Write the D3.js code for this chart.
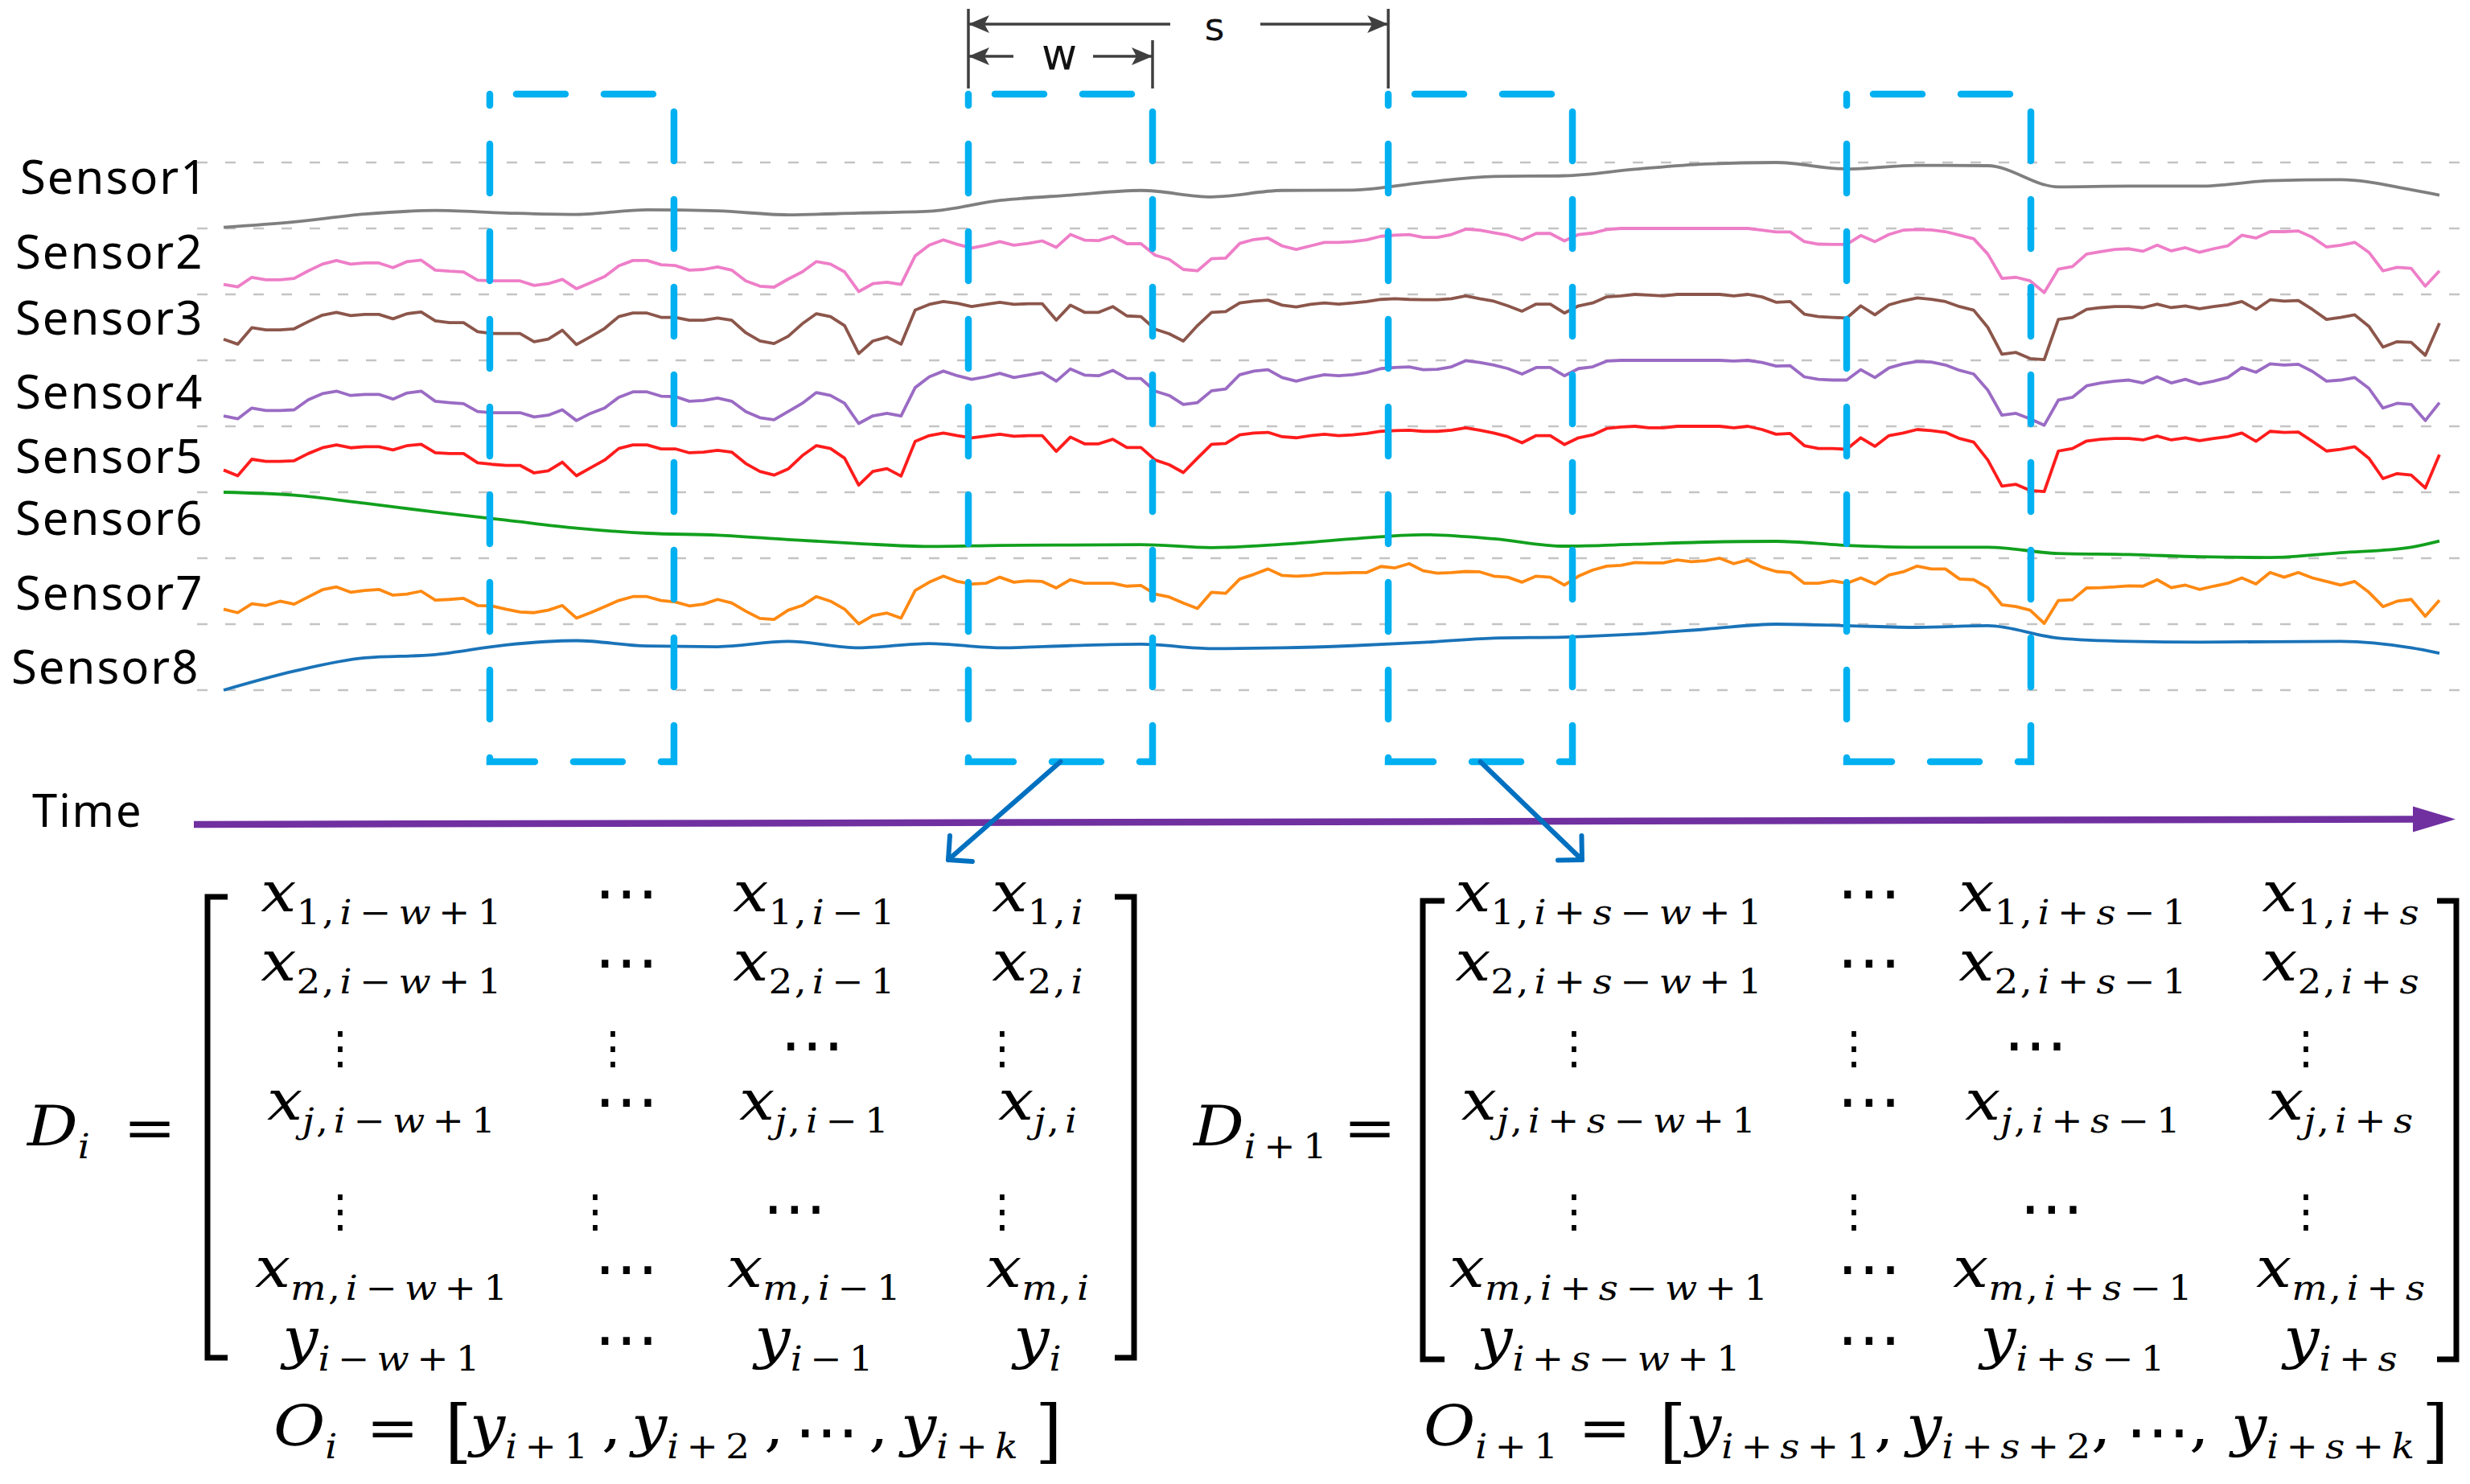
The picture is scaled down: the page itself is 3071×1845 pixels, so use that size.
<!DOCTYPE html>
<html>
<head>
<meta charset="utf-8">
<title>Sliding window over sensor series</title>
<script src="https://cdn.jsdelivr.net/npm/d3@7/dist/d3.min.js"></script>
<style>
    html, body { margin: 0; padding: 0; background: #fff; }
    svg { display: block; }
</style>
</head>
<body>
<svg id="chart" width="3071" height="1845"></svg>
<script>
(function () {
    'use strict';

    // ---- data -------------------------------------------------------------

    var sensorNames = ['Sensor1', 'Sensor2', 'Sensor3', 'Sensor4', 'Sensor5', 'Sensor6', 'Sensor7', 'Sensor8'];
    var sensorColors = ['#7f7f7f', '#ee7ec8', '#8c564b', '#9a6bc4', '#ff1c1c', '#12a01e', '#ff8912', '#1a73b8'];

    // min-max normalised readings, one per time step (steps 0..157)
    var sensor2 = [0.151, 0.114, 0.259, 0.222, 0.222, 0.243, 0.357, 0.459, 0.514, 0.459,
        0.476, 0.476, 0.405, 0.497, 0.519, 0.368, 0.351, 0.341, 0.216, 0.205,
        0.205, 0.205, 0.135, 0.162, 0.227, 0.086, 0.178, 0.27, 0.432, 0.514,
        0.514, 0.449, 0.438, 0.368, 0.378, 0.416, 0.368, 0.205, 0.124, 0.11,
        0.232, 0.341, 0.497, 0.459, 0.341, 0.043, 0.162, 0.184, 0.151, 0.584,
        0.746, 0.827, 0.757, 0.703, 0.746, 0.8, 0.746, 0.773, 0.811, 0.714,
        0.908, 0.822, 0.816, 0.881, 0.768, 0.768, 0.595, 0.53, 0.378, 0.357,
        0.541, 0.551, 0.773, 0.832, 0.854, 0.735, 0.681, 0.735, 0.789, 0.789,
        0.8, 0.827, 0.881, 0.897, 0.908, 0.865, 0.865, 0.908, 0.989, 0.973,
        0.935, 0.897, 0.827, 0.924, 0.924, 0.811, 0.908, 0.93, 0.984, 1.0,
        1.0, 1.0, 1.0, 1.0, 1.0, 1.0, 1.0, 1.0, 1.0, 0.973,
        0.946, 0.946, 0.8, 0.762, 0.757, 0.757, 0.892, 0.8, 0.908, 0.973,
        0.984, 0.978, 0.951, 0.897, 0.843, 0.611, 0.243, 0.259, 0.205, 0.027,
        0.384, 0.422, 0.611, 0.649, 0.681, 0.692, 0.654, 0.746, 0.659, 0.708,
        0.638, 0.692, 0.735, 0.897, 0.854, 0.951, 0.951, 0.962, 0.865, 0.719,
        0.746, 0.789, 0.638, 0.357, 0.411, 0.395, 0.124, 0.357];

    var sensor3 = [0.321, 0.245, 0.495, 0.462, 0.462, 0.478, 0.587, 0.685, 0.728, 0.679,
        0.696, 0.696, 0.63, 0.707, 0.734, 0.598, 0.571, 0.571, 0.435, 0.408,
        0.408, 0.408, 0.283, 0.321, 0.457, 0.239, 0.359, 0.484, 0.663, 0.717,
        0.717, 0.652, 0.652, 0.609, 0.609, 0.641, 0.609, 0.418, 0.293, 0.255,
        0.364, 0.554, 0.707, 0.663, 0.527, 0.103, 0.293, 0.353, 0.245, 0.761,
        0.848, 0.891, 0.864, 0.815, 0.848, 0.88, 0.848, 0.859, 0.859, 0.609,
        0.837, 0.728, 0.728, 0.815, 0.674, 0.663, 0.473, 0.402, 0.293, 0.527,
        0.728, 0.739, 0.87, 0.897, 0.913, 0.837, 0.81, 0.848, 0.87, 0.853,
        0.87, 0.891, 0.924, 0.935, 0.924, 0.918, 0.918, 0.935, 0.978, 0.935,
        0.897, 0.826, 0.745, 0.853, 0.853, 0.717, 0.826, 0.87, 0.962, 0.978,
        1.0, 0.989, 0.978, 1.0, 1.0, 1.0, 1.0, 0.978, 1.0, 0.962,
        0.88, 0.891, 0.701, 0.663, 0.652, 0.641, 0.826, 0.69, 0.842, 0.902,
        0.946, 0.924, 0.891, 0.815, 0.761, 0.5, 0.092, 0.12, 0.027, 0.011,
        0.62, 0.652, 0.772, 0.799, 0.815, 0.815, 0.799, 0.853, 0.799, 0.826,
        0.783, 0.815, 0.842, 0.891, 0.772, 0.918, 0.897, 0.908, 0.772, 0.62,
        0.652, 0.69, 0.516, 0.201, 0.283, 0.272, 0.076, 0.565];

    var sensor4 = [0.158, 0.114, 0.277, 0.239, 0.239, 0.25, 0.402, 0.495, 0.533, 0.467,
        0.484, 0.484, 0.413, 0.505, 0.533, 0.38, 0.359, 0.342, 0.223, 0.207,
        0.207, 0.207, 0.141, 0.168, 0.25, 0.087, 0.196, 0.277, 0.44, 0.522,
        0.522, 0.457, 0.451, 0.38, 0.391, 0.429, 0.38, 0.223, 0.13, 0.1,
        0.223, 0.348, 0.511, 0.467, 0.348, 0.043, 0.158, 0.196, 0.158, 0.587,
        0.75, 0.837, 0.766, 0.712, 0.75, 0.804, 0.739, 0.777, 0.815, 0.685,
        0.87, 0.777, 0.766, 0.848, 0.728, 0.723, 0.533, 0.467, 0.332, 0.359,
        0.538, 0.565, 0.783, 0.837, 0.859, 0.739, 0.685, 0.739, 0.783, 0.766,
        0.783, 0.815, 0.875, 0.891, 0.902, 0.859, 0.864, 0.902, 0.995, 0.967,
        0.929, 0.875, 0.793, 0.891, 0.891, 0.766, 0.875, 0.902, 0.989, 1.0,
        1.0, 1.0, 1.0, 1.0, 1.0, 1.0, 1.0, 0.99, 1.0, 0.967,
        0.913, 0.918, 0.75, 0.712, 0.701, 0.701, 0.859, 0.739, 0.886, 0.946,
        0.984, 0.973, 0.929, 0.848, 0.793, 0.549, 0.168, 0.196, 0.114, 0.016,
        0.397, 0.44, 0.614, 0.658, 0.685, 0.701, 0.658, 0.75, 0.658, 0.712,
        0.641, 0.685, 0.739, 0.891, 0.82, 0.946, 0.929, 0.94, 0.832, 0.685,
        0.701, 0.739, 0.576, 0.277, 0.348, 0.332, 0.087, 0.359];

    var sensor5 = [0.337, 0.25, 0.5, 0.467, 0.467, 0.478, 0.587, 0.674, 0.717, 0.674,
        0.69, 0.69, 0.641, 0.707, 0.728, 0.598, 0.587, 0.587, 0.446, 0.424,
        0.408, 0.408, 0.293, 0.326, 0.457, 0.25, 0.37, 0.489, 0.663, 0.717,
        0.717, 0.658, 0.658, 0.598, 0.609, 0.636, 0.609, 0.435, 0.315, 0.26,
        0.353, 0.554, 0.707, 0.663, 0.516, 0.109, 0.315, 0.359, 0.245, 0.772,
        0.859, 0.897, 0.859, 0.826, 0.853, 0.88, 0.848, 0.859, 0.859, 0.62,
        0.837, 0.734, 0.734, 0.804, 0.679, 0.679, 0.489, 0.418, 0.299, 0.516,
        0.728, 0.739, 0.87, 0.897, 0.908, 0.842, 0.826, 0.859, 0.88, 0.859,
        0.87, 0.891, 0.924, 0.935, 0.94, 0.924, 0.924, 0.94, 0.978, 0.94,
        0.897, 0.842, 0.75, 0.859, 0.859, 0.723, 0.826, 0.87, 0.967, 0.989,
        1.0, 0.978, 0.978, 1.0, 1.0, 1.0, 1.0, 0.978, 1.0, 0.951,
        0.88, 0.891, 0.707, 0.663, 0.663, 0.652, 0.826, 0.696, 0.859, 0.897,
        0.951, 0.935, 0.908, 0.815, 0.761, 0.489, 0.092, 0.12, 0.027, 0.011,
        0.625, 0.663, 0.777, 0.804, 0.815, 0.815, 0.793, 0.853, 0.793, 0.826,
        0.783, 0.815, 0.842, 0.897, 0.772, 0.924, 0.908, 0.913, 0.772, 0.625,
        0.652, 0.69, 0.516, 0.207, 0.283, 0.261, 0.065, 0.571];

    var sensor7 = [0.228, 0.174, 0.31, 0.283, 0.348, 0.304, 0.413, 0.522, 0.565, 0.484,
        0.511, 0.527, 0.44, 0.457, 0.5, 0.364, 0.375, 0.391, 0.283, 0.277,
        0.228, 0.185, 0.174, 0.212, 0.283, 0.092, 0.174, 0.266, 0.359, 0.418,
        0.418, 0.359, 0.337, 0.277, 0.304, 0.375, 0.321, 0.196, 0.087, 0.071,
        0.212, 0.283, 0.418, 0.348, 0.228, 0.005, 0.13, 0.168, 0.092, 0.511,
        0.636, 0.728, 0.647, 0.609, 0.62, 0.712, 0.636, 0.658, 0.647, 0.549,
        0.674, 0.62, 0.62, 0.62, 0.576, 0.587, 0.457, 0.413, 0.321, 0.239,
        0.484, 0.467, 0.685, 0.755, 0.837, 0.739, 0.728, 0.739, 0.772, 0.772,
        0.783, 0.783, 0.875, 0.853, 0.918, 0.81, 0.772, 0.783, 0.799, 0.793,
        0.728, 0.712, 0.636, 0.728, 0.712, 0.592, 0.728, 0.82, 0.88, 0.891,
        0.935, 0.929, 0.929, 0.973, 0.946, 0.962, 1.0, 0.918, 0.973, 0.864,
        0.799, 0.783, 0.62, 0.62, 0.658, 0.62, 0.701, 0.609, 0.745, 0.793,
        0.88, 0.837, 0.837, 0.685, 0.674, 0.554, 0.293, 0.266, 0.212, 0.011,
        0.359, 0.37, 0.549, 0.554, 0.565, 0.582, 0.576, 0.674, 0.554, 0.592,
        0.527, 0.576, 0.62, 0.701, 0.609, 0.783, 0.712, 0.783, 0.701, 0.647,
        0.592, 0.647, 0.484, 0.266, 0.348, 0.375, 0.12, 0.364];

    // slowly varying sensors, read every 5th step
    var smoothSteps = [0, 5, 10, 15, 20, 25, 30, 35, 40, 45, 50, 55, 60, 65, 70, 75, 80,
        85, 90, 95, 100, 105, 110, 115, 120, 125, 130, 135, 140, 145, 150, 155, 157];
    var sensor1 = [0.016, 0.098, 0.217, 0.272, 0.234, 0.212, 0.283, 0.266, 0.207, 0.234, 0.26,
        0.424, 0.505, 0.576, 0.478, 0.576, 0.582, 0.696, 0.788, 0.799, 0.897, 0.978, 1.0,
        0.902, 0.957, 0.951, 0.63, 0.641, 0.641, 0.723, 0.739, 0.587, 0.505];
    var sensor6 = [1.0, 0.956, 0.833, 0.7, 0.578, 0.456, 0.378, 0.35, 0.283, 0.222, 0.178,
        0.194, 0.2, 0.206, 0.161, 0.211, 0.294, 0.356, 0.294, 0.183, 0.211, 0.244, 0.256,
        0.194, 0.167, 0.167, 0.072, 0.056, 0.022, 0.011, 0.083, 0.167, 0.261];
    var sensor8 = [0.0, 0.288, 0.489, 0.538, 0.685, 0.75, 0.668, 0.658, 0.739, 0.641, 0.707,
        0.641, 0.674, 0.696, 0.63, 0.641, 0.674, 0.723, 0.788, 0.804, 0.848, 0.924, 1.0,
        0.978, 0.951, 0.978, 0.788, 0.739, 0.728, 0.734, 0.739, 0.641, 0.56];

    // sliding windows: start step of each window and window length w
    var windowStarts = [18.86, 52.77, 82.52, 115.0];
    var windowLength = 13.05;

    // matrix contents
    var leftRows = [
        ['x_{1,i−w+1}', '⋯', 'x_{1,i−1}', 'x_{1,i}'],
        ['x_{2,i−w+1}', '⋯', 'x_{2,i−1}', 'x_{2,i}'],
        ['⋮', '⋮', '⋯', '⋮'],
        ['x_{j,i−w+1}', '⋯', 'x_{j,i−1}', 'x_{j,i}'],
        ['⋮', '⋮', '⋯', '⋮'],
        ['x_{m,i−w+1}', '⋯', 'x_{m,i−1}', 'x_{m,i}'],
        ['y_{i−w+1}', '⋯', 'y_{i−1}', 'y_{i}']
    ];
    var rightRows = [
        ['x_{1,i+s−w+1}', '⋯', 'x_{1,i+s−1}', 'x_{1,i+s}'],
        ['x_{2,i+s−w+1}', '⋯', 'x_{2,i+s−1}', 'x_{2,i+s}'],
        ['⋮', '⋮', '⋯', '⋮'],
        ['x_{j,i+s−w+1}', '⋯', 'x_{j,i+s−1}', 'x_{j,i+s}'],
        ['⋮', '⋮', '⋯', '⋮'],
        ['x_{m,i+s−w+1}', '⋯', 'x_{m,i+s−1}', 'x_{m,i+s}'],
        ['y_{i+s−w+1}', '⋯', 'y_{i+s−1}', 'y_{i+s}']
    ];
    var leftOutput = ['O_{i}', '=', '[', 'y_{i+1}', ',', 'y_{i+2}', ',', '⋯', ',', 'y_{i+k}', ']'];
    var rightOutput = ['O_{i+1}', '=', '[', 'y_{i+s+1}', ',', 'y_{i+s+2}', ',', '⋯', ',', 'y_{i+s+k}', ']'];

    // ---- setup ------------------------------------------------------------

    var svg = d3.select('#chart');
    var LABEL_FONT = "'Noto Sans', 'Open Sans', sans-serif";
    var MATH_FONT = "'DejaVu Serif', serif";
    var DOTS_FONT = "'DejaVu Sans', sans-serif";
    var MAIN_SIZE = 70, SUB_SIZE = 42, SUB_DROP = 16, SUB_TRACK = 2, MATH_SX = 1.12;
    var DOT_SIZE = 80, VDOT_SIZE = 56;

    var x = d3.scaleLinear().domain([0, 157]).range([278, 3033]);
    // level 0 = bottom grid line, 8 = top grid line; sensor k sits in band [7-k, 8-k]
    var y = d3.scaleLinear().domain([0, 8]).range([858, 202]);

    var series = [
        {values: sensor1, steps: smoothSteps, smooth: true},
        {values: sensor2},
        {values: sensor3},
        {values: sensor4},
        {values: sensor5},
        {values: sensor6, steps: smoothSteps, smooth: true},
        {values: sensor7},
        {values: sensor8, steps: smoothSteps, smooth: true}
    ];

    // grid lines
    svg.append('g').selectAll('line')
        .data(d3.range(9))
        .enter()
        .append('line')
        .attr('x1', 245).attr('x2', 3071)
        .attr('y1', function (d) { return y(d); })
        .attr('y2', function (d) { return y(d); })
        .attr('stroke', '#c4c4c4')
        .attr('stroke-width', 2.5)
        .attr('stroke-dasharray', '13 22');

    // sensor traces
    var lineGroup = svg.append('g');
    series.forEach(function (s, k) {
        var pts = s.values.map(function (v, i) {
            return {t: s.steps ? s.steps[i] : i, level: 7 - k + v};
        });
        var gen = d3.line()
            .x(function (d) { return x(d.t); })
            .y(function (d) { return y(d.level); })
            .curve(s.smooth ? d3.curveMonotoneX : d3.curveLinear);
        lineGroup.append('path')
            .attr('d', gen(pts))
            .attr('fill', 'none')
            .attr('stroke', sensorColors[k])
            .attr('stroke-width', 3.8)
            .attr('stroke-linejoin', 'round');
    });

    // sensor labels
    var labelDy = [39, 50, 50, 60, 58, 53, 64, 74];
    var labelX = [25, 19, 19, 19, 19, 19, 19, 14];
    svg.append('g').selectAll('text')
        .data(sensorNames)
        .enter()
        .append('text')
        .attr('x', function (d, k) { return labelX[k]; })
        .attr('y', function (d, k) { return y(8 - k) + labelDy[k]; })
        .attr('font-family', LABEL_FONT)
        .attr('font-size', 58)
        .attr('letter-spacing', 2)
        .attr('fill', '#000')
        .text(function (d) { return d; });

    // dashed window boxes
    var boxTop = 117, boxBottom = 947;
    svg.append('g').selectAll('path')
        .data(windowStarts)
        .enter()
        .append('path')
        .attr('d', function (d) {
            var l = x(d), r = x(d + windowLength);
            return 'M' + l + ',' + boxTop + 'H' + r + 'V' + boxBottom + 'H' + l + 'Z';
        })
        .attr('fill', 'none')
        .attr('stroke', '#00b0f0')
        .attr('stroke-width', 8.5)
        .attr('stroke-linecap', 'round')
        .attr('stroke-dasharray', '61 48')
        .attr('stroke-dashoffset', 76);

    // w / s dimension marks over windows 2 and 3
    var dimColor = '#3f3f3f';
    var dim = svg.append('g').attr('stroke', dimColor).attr('stroke-width', 3.5);
    var wL = x(windowStarts[1]), wR = x(windowStarts[1] + windowLength), sR = x(windowStarts[2]);

    function dimArrow(x1, x2, yy, headAt) {
        dim.append('line').attr('x1', x1).attr('x2', x2).attr('y1', yy).attr('y2', yy);
        var tip = headAt === 'left' ? x1 : x2;
        var dir = headAt === 'left' ? -1 : 1;
        svg.append('path')
            .attr('d', 'M' + tip + ',' + yy +
                'L' + (tip - dir * 26) + ',' + (yy - 11) +
                'L' + (tip - dir * 20) + ',' + yy +
                'L' + (tip - dir * 26) + ',' + (yy + 11) + 'Z')
            .attr('fill', dimColor);
    }

    dim.append('line').attr('x1', wL).attr('x2', wL).attr('y1', 11).attr('y2', 110);
    dim.append('line').attr('x1', sR).attr('x2', sR).attr('y1', 11).attr('y2', 110);
    dim.append('line').attr('x1', wR).attr('x2', wR).attr('y1', 50).attr('y2', 110);

    var sX = 1510, wX = 1317;
    dimArrow(wL, sX - 55, 30, 'left');
    dimArrow(sX + 57, sR, 30, 'right');
    dimArrow(wL, wX - 57, 70, 'left');
    dimArrow(wX + 42, wR, 70, 'right');

    svg.append('text').attr('x', sX).attr('y', 50)
        .attr('font-family', DOTS_FONT).attr('font-size', 48)
        .attr('text-anchor', 'middle').attr('fill', '#111').text('s');
    svg.append('text').attr('x', wX).attr('y', 86)
        .attr('font-family', DOTS_FONT).attr('font-size', 54)
        .attr('text-anchor', 'middle').attr('fill', '#111').text('w');

    // time axis
    svg.append('text').attr('x', 40).attr('y', 1028)
        .attr('font-family', LABEL_FONT).attr('font-size', 56)
        .attr('letter-spacing', 2).attr('fill', '#000').text('Time');
    svg.append('line')
        .attr('x1', 241).attr('y1', 1025).attr('x2', 3004).attr('y2', 1018.5)
        .attr('stroke', '#7030a0').attr('stroke-width', 8.5);
    svg.append('path')
        .attr('d', 'M3053,1018.5L3000,1002.5L3000,1034.5Z')
        .attr('fill', '#7030a0');

    // blue arrows from windows to matrices
    function pointer(x1, y1, x2, y2) {
        var g = svg.append('g').attr('stroke', '#0070c0').attr('stroke-width', 6)
            .attr('stroke-linecap', 'round').attr('fill', 'none');
        g.append('line').attr('x1', x1).attr('y1', y1).attr('x2', x2).attr('y2', y2);
        var back = Math.atan2(y1 - y2, x1 - x2), len = 30;
        [-Math.PI / 4, Math.PI / 4].forEach(function (a) {
            g.append('line').attr('x1', x2).attr('y1', y2)
                .attr('x2', x2 + len * Math.cos(back + a))
                .attr('y2', y2 + len * Math.sin(back + a));
        });
    }
    pointer((wL + wR) / 2, boxBottom, 1179, 1069);
    pointer((sR + x(windowStarts[2] + windowLength)) / 2, boxBottom, 1967, 1069);

    // ---- math -------------------------------------------------------------

    var opPad = {'−': 0.15, '+': 0.15};

    // base letter with an optional _{subscript}, slightly widened like the original
    function mathText(str, px, py, anchor) {
        var t = svg.append('g')
            .attr('transform', 'translate(' + px + ',' + py + ') scale(' + MATH_SX + ',1)')
            .append('text')
            .attr('font-family', MATH_FONT)
            .attr('font-size', MAIN_SIZE)
            .attr('text-anchor', anchor || 'middle')
            .attr('fill', '#000');
        var i = 0, shift = 0, carry = 0;

        function glyph(ch, size, dy, track) {
            var pad = (opPad[ch] || 0) * size;
            var span = t.append('tspan').attr('font-size', size).text(ch);
            var dx = carry + pad;
            if (dx) span.attr('dx', dx.toFixed(1));
            if (dy) span.attr('dy', dy);
            if (/[A-Za-z]/.test(ch)) span.attr('font-style', 'italic');
            carry = pad + (ch === ',' ? 0.1 * size : 0) + track;
        }

        while (i < str.length) {
            if (str[i] === '_' && str[i + 1] === '{') {
                var j = str.indexOf('}', i);
                var sub = str.slice(i + 2, j);
                for (var k = 0; k < sub.length; k++) {
                    glyph(sub[k], SUB_SIZE, k === 0 ? SUB_DROP - shift : 0, SUB_TRACK);
                }
                shift = SUB_DROP;
                i = j + 1;
            } else {
                glyph(str[i], MAIN_SIZE, shift ? -shift : 0, 0);
                shift = 0;
                i++;
            }
        }
        return t;
    }

    function hdots(cx, cy) {
        svg.append('text').attr('x', cx).attr('y', cy + 0.3 * DOT_SIZE)
            .attr('font-family', DOTS_FONT).attr('font-size', DOT_SIZE)
            .attr('text-anchor', 'middle').attr('fill', '#000').text('⋯');
    }

    function vdots(cx, cy) {
        svg.append('text').attr('x', cx).attr('y', cy + 0.36 * VDOT_SIZE)
            .attr('font-family', DOTS_FONT).attr('font-size', VDOT_SIZE)
            .attr('text-anchor', 'middle').attr('fill', '#000').text('⋮');
    }

    function bracket(xv, xs, top, bottom) {
        svg.append('path')
            .attr('d', 'M' + xs + ',' + top + 'H' + xv + 'V' + bottom + 'H' + xs)
            .attr('fill', 'none').attr('stroke', '#000').attr('stroke-width', 7);
    }

    var rowY = [1133, 1219, 1302, 1392, 1505, 1600, 1688];

    function drawMatrix(rows, cols, dotCols) {
        rows.forEach(function (row, r) {
            row.forEach(function (cell, c) {
                if (dotCols[r]) {
                    if (cell === '⋮') vdots(dotCols[r][c], rowY[r]);
                    else hdots(dotCols[r][c], rowY[r]);
                } else if (cell === '⋯') {
                    hdots(cols[c], rowY[r] - 20);
                } else {
                    mathText(cell, cols[c], rowY[r]);
                }
            });
        });
    }

    function drawOutput(parts, xs, base) {
        parts.forEach(function (p, k) {
            if (p === '⋯') {
                hdots(xs[k] + 33, base - 14);
            } else if (p === '[' || p === ']') {
                svg.append('text').attr('x', xs[k]).attr('y', base + 12)
                    .attr('font-family', MATH_FONT).attr('font-size', 86)
                    .attr('fill', '#000').text(p);
            } else if (p === '=') {
                mathText(p, xs[k], base + 2);
            } else {
                mathText(p, xs[k], base, 'start');
            }
        });
    }

    // left matrix D_i
    mathText('D_{i}', 34, 1424, 'start');
    mathText('=', 186, 1426);
    bracket(258, 283, 1115, 1688);
    bracket(1410, 1386, 1115, 1688);
    drawMatrix(leftRows, [474, 779, 1012, 1290],
        {2: [423, 762, 1010, 1246], 4: [423, 740, 988, 1246]});
    drawOutput(leftOutput, [340, 488, 553, 584, 748, 785, 950, 995, 1080, 1120, 1287], 1797);

    // right matrix D_{i+1}
    mathText('D_{i+1}', 1484, 1424, 'start');
    mathText('=', 1703, 1426);
    bracket(1769, 1796, 1120, 1690);
    bracket(3054, 3030, 1120, 1690);
    drawMatrix(rightRows, [2000, 2324, 2577, 2910],
        {2: [1957, 2305, 2531, 2867], 4: [1957, 2305, 2551, 2867]});
    drawOutput(rightOutput, [1770, 1995, 2063, 2096, 2330, 2370, 2600, 2650, 2722, 2774, 3011], 1797);
})();
</script>
</body>
</html>
